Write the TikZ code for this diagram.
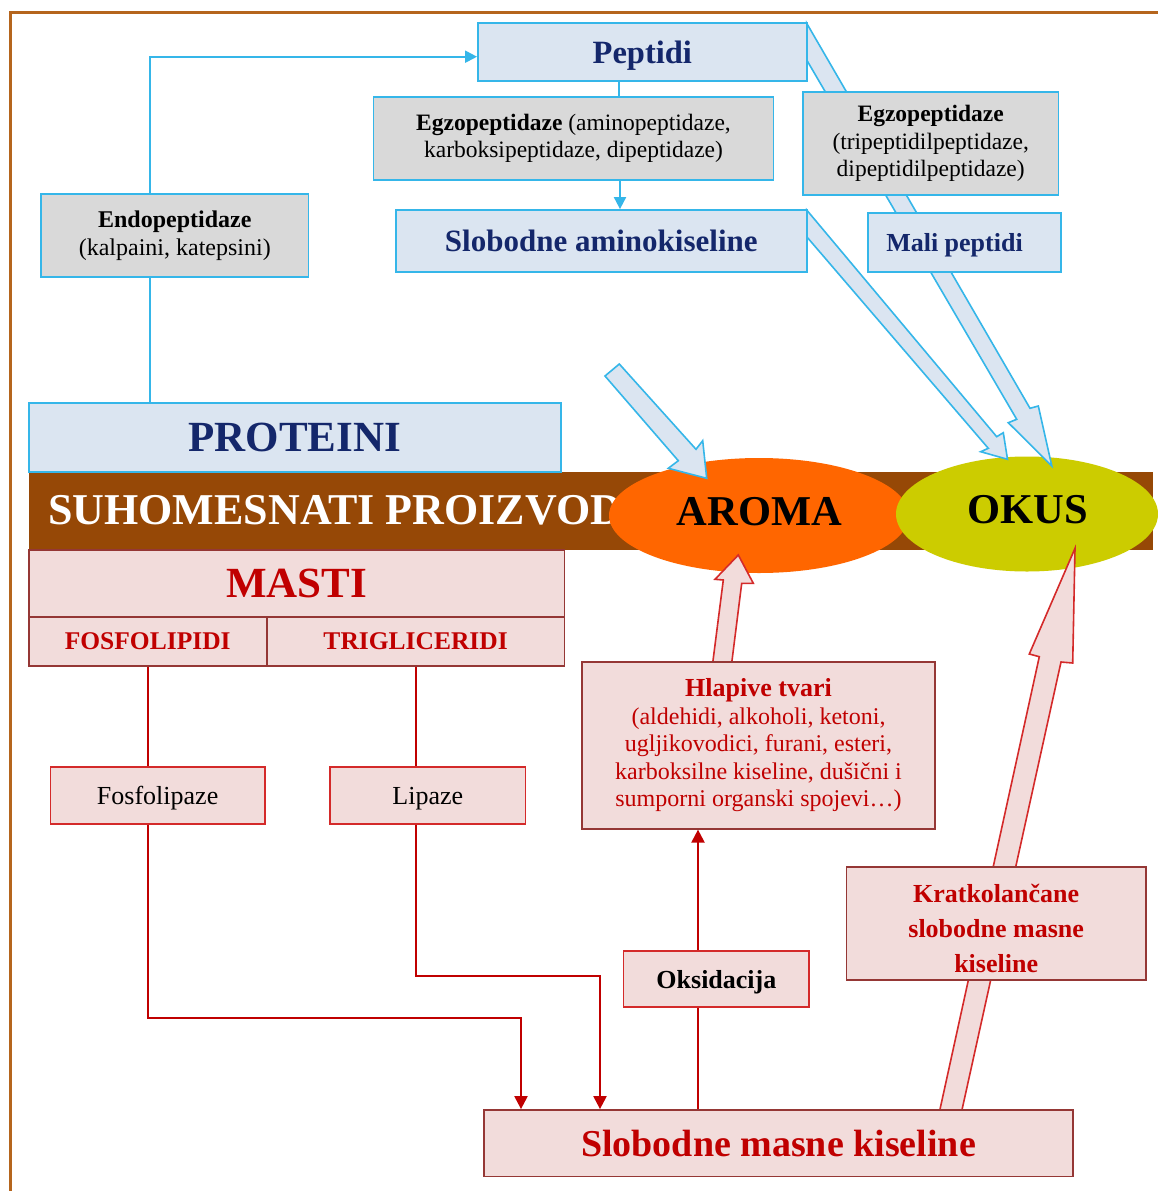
\documentclass[tikz,border=0pt]{standalone}
\usepackage{fontspec}
\setmainfont{Liberation Serif}
\usetikzlibrary{arrows.meta,shapes.geometric}
\definecolor{frameC}{HTML}{B5651D}
\definecolor{cyanB}{HTML}{35B6E9}
\definecolor{lblue}{HTML}{DBE5F1}
\definecolor{lgray}{HTML}{D9D9D9}
\definecolor{navy}{HTML}{14276B}
\definecolor{pinkF}{HTML}{F2DCDB}
\definecolor{dred}{HTML}{953735}
\definecolor{bred}{HTML}{D42A2A}
\definecolor{tred}{HTML}{C00000}
\definecolor{bandC}{HTML}{964806}
\definecolor{aromaC}{HTML}{FF6600}
\definecolor{okusC}{HTML}{CCCC00}
\tikzset{
  bbox/.style={draw=cyanB, fill=lblue, line width=1.8pt, inner sep=0pt, align=center},
  gbox/.style={draw=cyanB, fill=lgray, line width=1.8pt, inner sep=0pt, align=center},
  pbox/.style={draw=dred, fill=pinkF, line width=1.8pt, inner sep=0pt, align=center},
  rbox/.style={draw=bred, fill=pinkF, line width=1.8pt, inner sep=0pt, align=center},
  flat/.style={text depth=0pt},
  bline/.style={draw=cyanB, line width=2pt},
  barr/.style={bline, -{Triangle[length=12pt,width=12pt]}},
  rline/.style={draw=tred, line width=2.2pt},
  rarr/.style={rline, -{Triangle[length=13pt,width=13pt]}},
  bblock/.style={fill=lblue, draw=cyanB, line width=1.6pt, line join=miter},
  rblock/.style={fill=pinkF, draw=bred, line width=1.6pt, line join=miter},
}
\begin{document}
\begin{tikzpicture}[x=1pt,y=-1pt]
\useasboundingbox (0,0) rectangle (1158,1191);
\fill[white] (0,0) rectangle (1158,1191);
\draw[frameC, line width=3pt] (10,1192) -- (10,12.7) -- (1159,12.7);

% band
\fill[bandC] (28.7,472) rectangle (1153,550);
\node[anchor=base west, text=white, font=\bfseries\fontsize{44}{44}\selectfont, inner sep=0pt] (bandtext) at (48,524) {SUHOMESNATI PROIZVOD};

% ellipses
\node[ellipse, fill=aromaC, minimum width=300pt, minimum height=115pt, inner sep=0pt] (aroma) at (759,515.5) {};
\node[ellipse, fill=okusC, minimum width=262pt, minimum height=115pt, inner sep=0pt] (okus) at (1027,514) {};
\node[anchor=base, font=\bfseries\fontsize{42.5}{42}\selectfont, inner sep=0pt] (aromat) at (759.5,525) {AROMA};
\node[anchor=base, font=\bfseries\fontsize{42.5}{42}\selectfont, inner sep=0pt] (okust) at (1027.5,523.3) {OKUS};

% blue block arrows
\filldraw[bblock] (806.7,23.3) -- (1030,408.3) -- (1038.3,406) -- (1051.8,466) -- (1008.3,422.7) -- (1016.7,419.3) -- (806.7,60) -- cycle;
\filldraw[bblock] (806.7,210) -- (996.7,436.7) -- (1003.3,432.7) -- (1007.5,459.3) -- (980.7,451.7) -- (988.3,448.3) -- (806.7,236.7) -- cycle;
\filldraw[bblock] (605,376) -- (619.3,364) -- (696,449.3) -- (702.7,440.7) -- (706.7,478.3) -- (668.3,468.3) -- (678.3,460.7) -- cycle;

% red block arrows
\filldraw[rblock] (712.7,663) -- (723.3,580) -- (715,579.3) -- (738.3,555) -- (753.3,583.3) -- (741.7,583.3) -- (731.7,663) -- cycle;
\filldraw[rblock] (939.4,1112) -- (1039.3,656.7) -- (1029.3,654) -- (1075,548.3) -- (1072.7,663) -- (1061,662) -- (961.5,1112) -- cycle;

% protein boxes
\node[bbox, flat, minimum width=328.7pt, minimum height=58.3pt, text=navy, font=\bfseries\fontsize{32.5}{36}\selectfont] (pep) at (642.3,51.8) {Peptidi};
\node[gbox, minimum width=400pt, minimum height=83pt, font=\fontsize{23.5}{26.7}\selectfont] (egz1) at (573.5,138.5) {\textbf{Egzopeptidaze} (aminopeptidaze,\\karboksipeptidaze, dipeptidaze)};
\node[bbox, flat, minimum width=410.7pt, minimum height=62pt, text=navy, font=\bfseries\fontsize{31}{34}\selectfont] (sak) at (601.3,241) {Slobodne aminokiseline};
\node[gbox, minimum width=267.5pt, minimum height=83pt, font=\fontsize{24}{28.3}\selectfont] (endo) at (174.75,235.5) {\textbf{Endopeptidaze}\\(kalpaini, katepsini)};
\node[gbox, minimum width=255.4pt, minimum height=103pt, font=\fontsize{23.5}{27.5}\selectfont] (egz2) at (930.7,143.5) {\textbf{Egzopeptidaze}\\(tripeptidilpeptidaze,\\dipeptidilpeptidaze)};
\node[bbox, flat, minimum width=193pt, minimum height=59pt, text=navy, font=\bfseries\fontsize{26}{30}\selectfont] (mali) at (964.5,242.5) {\hspace*{-20pt}Mali peptidi};
\node[bbox, minimum width=532pt, minimum height=69pt, text=navy, font=\bfseries\fontsize{43}{46}\selectfont] (prot) at (294.7,437.2) {PROTEINI};

% fat boxes
\node[pbox, minimum width=535.8pt, minimum height=66.7pt, text=tred, font=\bfseries\fontsize{43}{46}\selectfont] (masti) at (296.6,583.35) {MASTI};
\node[pbox, minimum width=238pt, minimum height=49.3pt, text=tred, font=\bfseries\fontsize{25.5}{28}\selectfont] (fosfo) at (147.7,641.35) {FOSFOLIPIDI};
\node[pbox, minimum width=297.8pt, minimum height=49.3pt, text=tred, font=\bfseries\fontsize{25.5}{28}\selectfont] (trig) at (415.6,641.35) {TRIGLICERIDI};
\node[rbox, flat, minimum width=214.3pt, minimum height=56.3pt, font=\fontsize{26}{30}\selectfont] (fosl) at (157.65,795.45) {Fosfolipaze};
\node[rbox, flat, minimum width=195.5pt, minimum height=56.3pt, font=\fontsize{26}{30}\selectfont] (lip) at (427.75,795.45) {Lipaze};
\node[pbox, minimum width=353pt, minimum height=166.9pt, text=tred, font=\fontsize{24}{27.5}\selectfont] (hlap) at (758.5,745.25) {{\bfseries\fontsize{26}{27.5}\selectfont Hlapive tvari}\\(aldehidi, alkoholi, ketoni,\\ugljikovodici, furani, esteri,\\karboksilne kiseline, dušični i\\sumporni organski spojevi…)};
\node[rbox, flat, minimum width=185.8pt, minimum height=56pt, font=\bfseries\fontsize{26}{30}\selectfont] (oks) at (716.4,979) {Oksidacija};
\node[pbox, minimum width=299.3pt, minimum height=113.2pt, text=tred, font=\bfseries\fontsize{26}{35}\selectfont] (krat) at (996.15,923.2) {\rule{0pt}{28pt}Kratkolančane\\slobodne masne\\kiseline};
\node[pbox, flat, minimum width=589pt, minimum height=66.5pt, text=tred, font=\bfseries\fontsize{38}{40}\selectfont] (smk) at (778.5,1143.25) {Slobodne masne kiseline};

% blue connectors
\draw[barr] ([xshift=-24.75pt]endo.north) |- ([yshift=-4.9pt]pep.west);
\draw[bline] ([xshift=-24.75pt]endo.south) -- ([xshift=-24.75pt]endo.south |- prot.north);
\draw[bline] ([xshift=-23.6pt]pep.south) -- ([xshift=-23.6pt]pep.south |- egz1.north);
\draw[barr] ([xshift=46.5pt]egz1.south) -- ([xshift=46.5pt]egz1.south |- sak.north);

% red connectors
\draw[rline] (fosfo.south) -- (fosfo.south |- fosl.north);
\draw[rline] (trig.south) -- (trig.south |- lip.north);
\draw[rarr] (fosfo.south |- fosl.south) |- ([xshift=-257.5pt,yshift=91.5pt]smk.north) -- ([xshift=-257.5pt]smk.north);
\draw[rarr] (trig.south |- lip.south) |- ([xshift=-178.5pt,yshift=133pt]smk.north) -- ([xshift=-178.5pt]smk.north);
\draw[rline] ([xshift=-80.5pt]smk.north) -- ([xshift=-80.5pt]smk.north |- oks.south);
\draw[rarr] ([xshift=-18.4pt]oks.north) -- ([xshift=-18.4pt]oks.north |- hlap.south);
\end{tikzpicture}
\end{document}
